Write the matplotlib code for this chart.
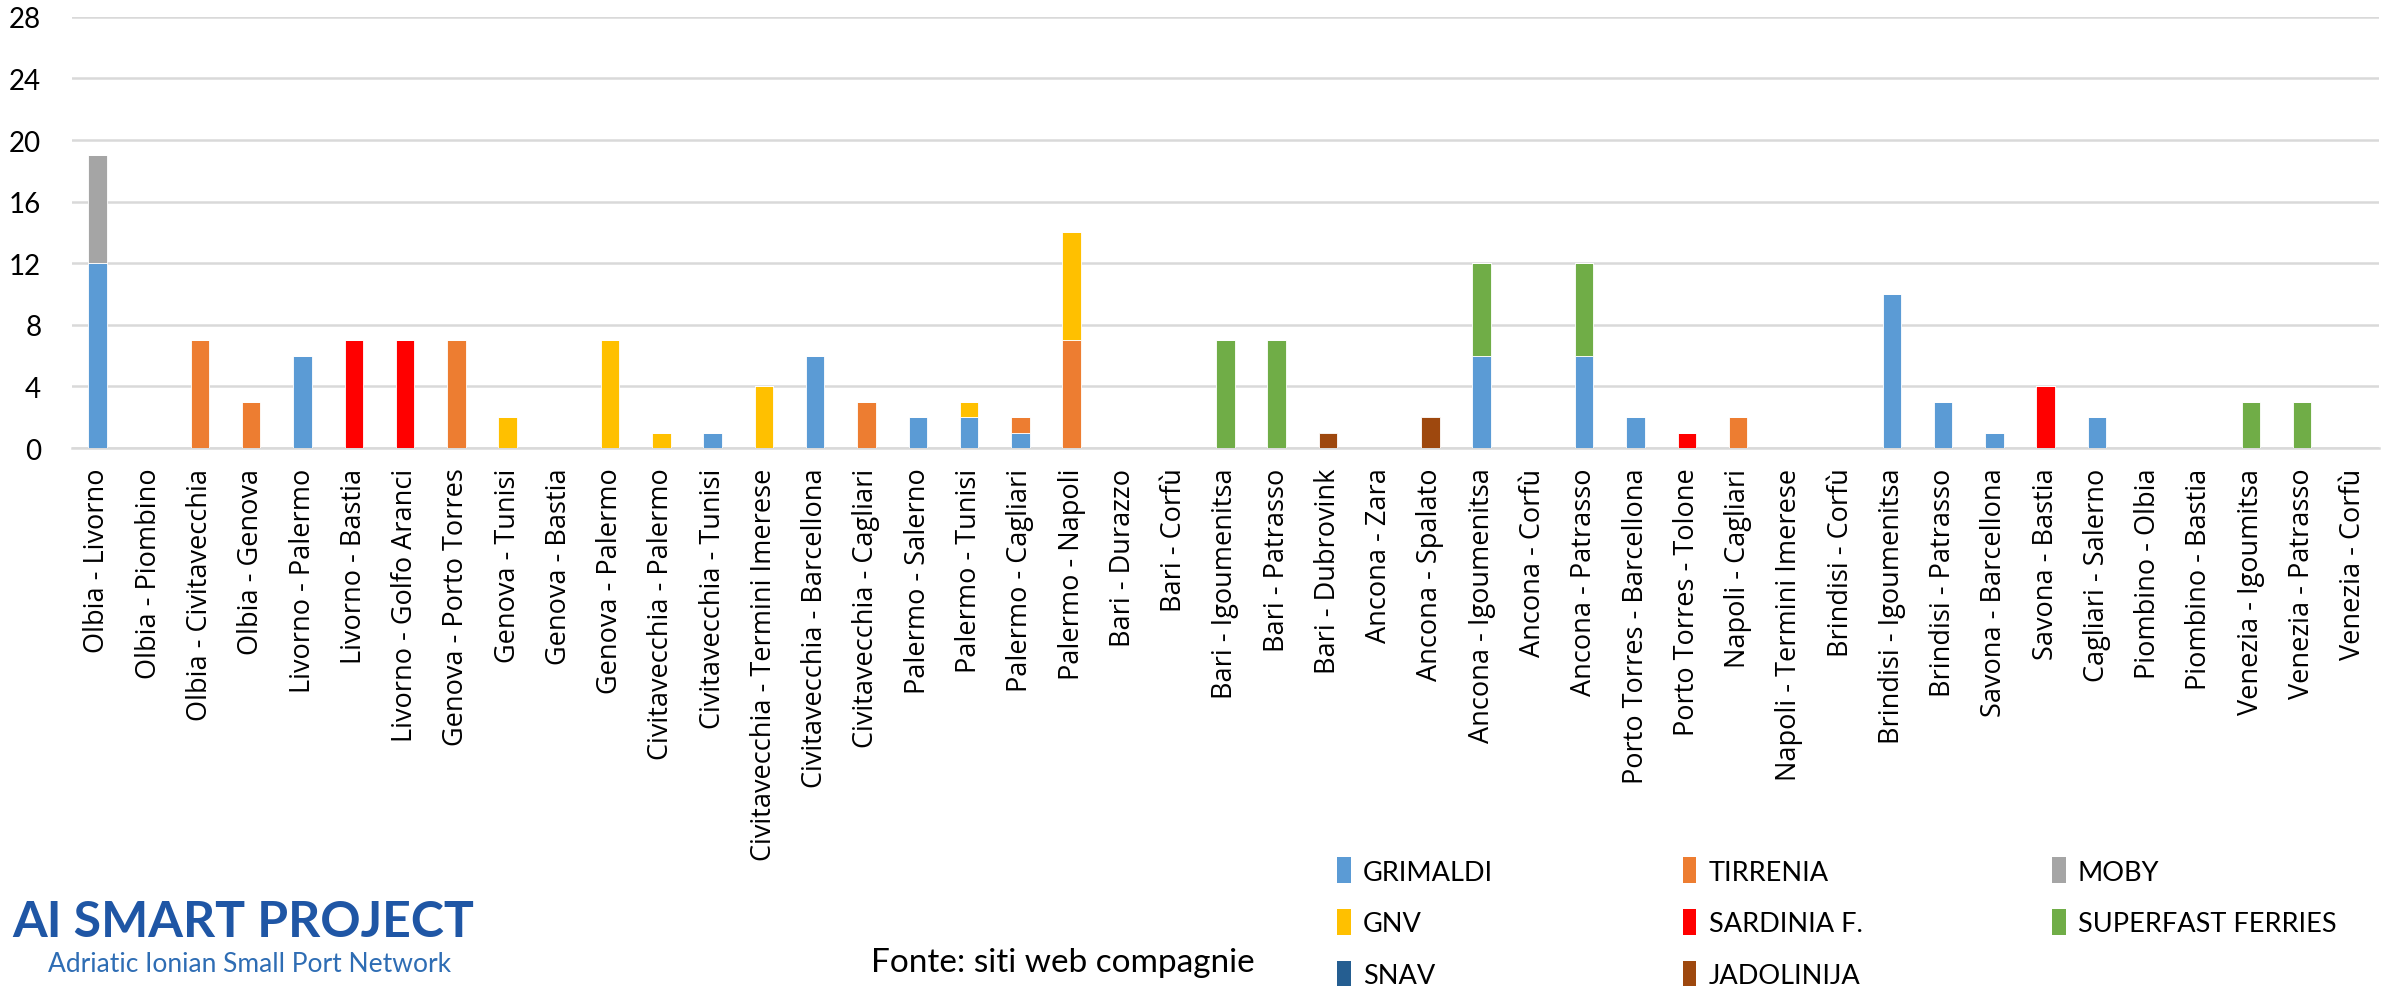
import matplotlib
matplotlib.use("Agg")
import matplotlib.pyplot as plt
import numpy as np
from matplotlib.patches import Patch

plt.rcParams["font.family"] = ["Lato", "DejaVu Sans"]

routes = [
    "Olbia - Livorno", "Olbia - Piombino", "Olbia - Civitavecchia", "Olbia - Genova",
    "Livorno - Palermo", "Livorno - Bastia", "Livorno - Golfo Aranci",
    "Genova - Porto Torres", "Genova - Tunisi", "Genova - Bastia", "Genova - Palermo",
    "Civitavecchia - Palermo", "Civitavecchia - Tunisi",
    "Civitavecchia - Termini Imerese", "Civitavecchia - Barcellona",
    "Civitavecchia - Cagliari", "Palermo - Salerno", "Palermo - Tunisi",
    "Palermo - Cagliari", "Palermo - Napoli", "Bari - Durazzo", "Bari - Corfù",
    "Bari - Igoumenitsa", "Bari - Patrasso", "Bari - Dubrovink", "Ancona - Zara",
    "Ancona - Spalato", "Ancona - Igoumenitsa", "Ancona - Corfù", "Ancona - Patrasso",
    "Porto Torres - Barcellona", "Porto Torres - Tolone", "Napoli - Cagliari",
    "Napoli - Termini Imerese", "Brindisi - Corfù", "Brindisi - Igoumenitsa",
    "Brindisi - Patrasso", "Savona - Barcellona", "Savona - Bastia",
    "Cagliari - Salerno", "Piombino - Olbia", "Piombino - Bastia",
    "Venezia - Igoumitsa", "Venezia - Patrasso", "Venezia - Corfù",
]

# weekly departures per company (stack order = legend order)
grimaldi = [12, 0, 0, 0, 6, 0, 0, 0, 0, 0, 0, 0, 1, 0, 6, 0, 2, 2, 1, 0, 0, 0, 0,
            0, 0, 0, 0, 6, 0, 6, 2, 0, 0, 0, 0, 10, 3, 1, 0, 2, 0, 0, 0, 0, 0]
tirrenia = [0, 0, 7, 3, 0, 0, 0, 7, 0, 0, 0, 0, 0, 0, 0, 3, 0, 0, 1, 7, 0, 0, 0,
            0, 0, 0, 0, 0, 0, 0, 0, 0, 2, 0, 0, 0, 0, 0, 0, 0, 0, 0, 0, 0, 0]
moby = [7, 0, 0, 0, 0, 0, 0, 0, 0, 0, 0, 0, 0, 0, 0, 0, 0, 0, 0, 0, 0, 0, 0,
        0, 0, 0, 0, 0, 0, 0, 0, 0, 0, 0, 0, 0, 0, 0, 0, 0, 0, 0, 0, 0, 0]
gnv = [0, 0, 0, 0, 0, 0, 0, 0, 2, 0, 7, 1, 0, 4, 0, 0, 0, 1, 0, 7, 0, 0, 0,
       0, 0, 0, 0, 0, 0, 0, 0, 0, 0, 0, 0, 0, 0, 0, 0, 0, 0, 0, 0, 0, 0]
sardinia = [0, 0, 0, 0, 0, 7, 7, 0, 0, 0, 0, 0, 0, 0, 0, 0, 0, 0, 0, 0, 0, 0, 0,
            0, 0, 0, 0, 0, 0, 0, 0, 1, 0, 0, 0, 0, 0, 0, 4, 0, 0, 0, 0, 0, 0]
superfast = [0, 0, 0, 0, 0, 0, 0, 0, 0, 0, 0, 0, 0, 0, 0, 0, 0, 0, 0, 0, 0, 0, 7,
             7, 0, 0, 0, 6, 0, 6, 0, 0, 0, 0, 0, 0, 0, 0, 0, 0, 0, 0, 3, 3, 0]
snav = [0] * 45
jadolinija = [0, 0, 0, 0, 0, 0, 0, 0, 0, 0, 0, 0, 0, 0, 0, 0, 0, 0, 0, 0, 0, 0, 0,
              0, 1, 0, 2, 0, 0, 0, 0, 0, 0, 0, 0, 0, 0, 0, 0, 0, 0, 0, 0, 0, 0]

companies = ["GRIMALDI", "TIRRENIA", "MOBY", "GNV", "SARDINIA F.",
             "SUPERFAST FERRIES", "SNAV", "JADOLINIJA"]
series = [grimaldi, tirrenia, moby, gnv, sardinia, superfast, snav, jadolinija]
colors = ["#5B9BD5", "#ED7D31", "#A5A5A5", "#FFC000", "#FF0000",
          "#70AD47", "#255E91", "#9E480E"]

fig = plt.figure(figsize=(23.94, 9.87), dpi=100)
ax = fig.add_axes([0.030, 0.545, 0.9637, 0.437])

x = np.arange(len(routes))
bottom = np.zeros(len(routes))
for name, vals, col in zip(companies, series, colors):
    vals = np.array(vals, dtype=float)
    ax.bar(x, vals, 0.36, bottom=bottom, color=col, edgecolor="white",
           linewidth=0.6, label=name, zorder=3)
    bottom += vals

ax.set_xlim(-0.5, len(routes) - 0.5)
ax.set_ylim(0, 28)
ax.set_yticks(range(0, 29, 4))
ax.grid(axis="y", color="#D9D9D9", linewidth=1.8, zorder=0)
for side in ["left", "right", "top"]:
    ax.spines[side].set_visible(False)
ax.spines["bottom"].set_color("#D9D9D9")
ax.spines["bottom"].set_linewidth(1.8)
ax.tick_params(axis="y", length=0, labelsize=20, pad=22)
ax.tick_params(axis="x", length=0, pad=14)
ax.set_xticks(x)
ax.set_xticklabels(routes, rotation=90, fontsize=19.5,
                   family=["Open Sans", "DejaVu Sans"])

# legend laid out row by row like the original (matplotlib fills columns)
order = [0, 3, 6, 1, 4, 7, 2, 5]
handles = [Patch(facecolor=colors[i], label=companies[i]) for i in order]
fig.legend(handles=handles, ncol=3, loc="upper left",
           bbox_to_anchor=(0.553, 0.144), frameon=False, fontsize=19.5,
           handlelength=0.5, handleheight=1.1, handletextpad=0.45,
           columnspacing=7.0, labelspacing=0.9, borderpad=0.0)

fig.text(0.005, 0.051, "AI SMART PROJECT", fontsize=36, fontweight="bold",
         color="#1F56A5", ha="left", va="baseline")
fig.text(0.020, 0.015, "Adriatic Ionian Small Port Network", fontsize=19,
         color="#2E6DB4", ha="left", va="baseline")
fig.text(0.364, 0.015, "Fonte: siti web compagnie", fontsize=24,
         ha="left", va="baseline")

fig.savefig("out.png", dpi=100)
